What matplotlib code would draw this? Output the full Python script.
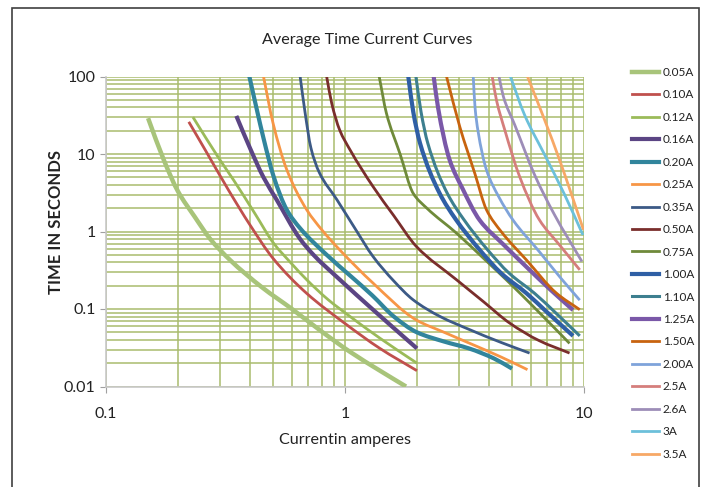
import numpy as np
import matplotlib
matplotlib.use("Agg")
import matplotlib.pyplot as plt
from matplotlib.patches import Rectangle, PathPatch
from matplotlib.path import Path
from matplotlib.lines import Line2D
from matplotlib.ticker import LogLocator, NullFormatter, FixedLocator, FixedFormatter

plt.rcParams['font.family'] = ['Lato', 'DejaVu Sans']

labels = ["0.05A", "0.10A", "0.12A", "0.16A", "0.20A", "0.25A", "0.35A", "0.50A", "0.75A",
          "1.00A", "1.10A", "1.25A", "1.50A", "2.00A", "2.5A", "2.6A", "3A", "3.5A"]

# current (A) and time (s)
x_005 = [0.15, 0.175, 0.2, 0.235, 0.273, 0.33, 0.45, 0.6, 0.8, 1.05, 1.4, 1.8]
t_005 = [29, 8.2, 3.3, 1.55, 0.8, 0.43, 0.19, 0.1, 0.051, 0.028, 0.016, 0.01]
x_010 = [0.222, 0.26, 0.325, 0.4, 0.5, 0.69, 1.0, 1.4, 2.0]
t_010 = [26, 11.3, 3.45, 1.22, 0.45, 0.16, 0.065, 0.031, 0.016]
x_012 = [0.231, 0.296, 0.342, 0.42, 0.502, 0.6, 0.692, 0.85, 1.05, 1.4, 2.0]
t_012 = [30, 8.9, 4.6, 1.7, 0.71, 0.38, 0.238, 0.132, 0.08, 0.042, 0.02]
x_016 = [0.351, 0.4, 0.456, 0.518, 0.649, 0.738, 0.95, 1.3, 2.0]
t_016 = [31, 12, 5.0, 2.56, 0.8, 0.5, 0.24, 0.1, 0.031]
x_020 = [0.398, 0.428, 0.456, 0.502, 0.571, 0.649, 0.838, 1.05, 1.3, 1.6, 2.0, 2.6, 3.3, 4.2, 5.0]
t_020 = [100, 37, 16, 5.2, 1.9, 1.1, 0.5, 0.27, 0.15, 0.08, 0.05, 0.038, 0.031, 0.023, 0.017]
x_025 = [0.456, 0.5, 0.571, 0.692, 0.8, 0.95, 1.31, 1.99, 2.6, 3.33, 4.5, 5.8]
t_025 = [100, 25, 6.25, 1.9, 1.05, 0.58, 0.216, 0.072, 0.05, 0.036, 0.024, 0.0165]
x_035 = [0.649, 0.68, 0.72, 0.78, 0.926, 1.1, 1.31, 1.6, 1.93, 2.5, 3.33, 4.5, 5.92]
t_035 = [100, 35, 12, 5.8, 2.56, 1.1, 0.476, 0.23, 0.131, 0.08, 0.054, 0.037, 0.027]
x_050 = [0.838, 0.88, 0.95, 1.05, 1.31, 1.6, 1.99, 2.93, 3.8, 4.88, 6.5, 8.7]
t_050 = [100, 45, 20.4, 11.3, 3.8, 1.6, 0.64, 0.238, 0.124, 0.066, 0.039, 0.027]
x_075 = [1.39, 1.49, 1.7, 1.93, 2.2, 2.93, 3.8, 4.73, 6.5, 8.7]
t_075 = [100, 33.7, 10, 3.1, 2.0, 0.95, 0.45, 0.238, 0.09, 0.036]
x_100 = [1.84, 1.93, 2.06, 2.49, 2.9, 3.66, 4.5, 5.74, 7.0, 9.0]
t_100 = [100, 35, 13.8, 3.1, 1.45, 0.58, 0.29, 0.16, 0.091, 0.045]
x_110 = [1.98, 2.08, 2.22, 2.68, 3.13, 3.95, 4.86, 6.2, 7.56, 9.6]
t_110 = [100, 35, 13.8, 3.1, 1.45, 0.58, 0.29, 0.16, 0.091, 0.045]
x_125 = [2.35, 2.45, 2.74, 3.1, 3.66, 4.6, 5.74, 7.2, 9.0]
t_125 = [100, 40, 8.4, 3.6, 1.4, 0.68, 0.35, 0.18, 0.097]
x_150 = [2.66, 3.02, 3.5, 3.91, 4.5, 5.74, 7.67, 9.6]
t_150 = [100, 22.6, 5.5, 1.9, 1.0, 0.43, 0.16, 0.098]
x_200 = [3.44, 3.5, 3.6, 3.91, 4.4, 5.05, 6.5, 8.0, 9.6]
t_200 = [100, 40, 20, 6.2, 2.8, 1.4, 0.55, 0.25, 0.13]
x_25 = [4.13, 4.3, 4.66, 5.38, 6.5, 7.9, 9.6]
t_25 = [100, 50, 20.5, 5.1, 1.42, 0.67, 0.32]
x_26 = [4.41, 4.6, 5.13, 6.21, 7.53, 9.8]
t_26 = [100, 55, 23.8, 5.4, 1.64, 0.41]
x_3 = [4.92, 5.64, 6.84, 8.29, 9.9]
t_3 = [100, 32, 9.8, 3.0, 0.9]
x_35 = [5.8, 6.84, 7.9, 8.87, 9.95]
t_35 = [100, 27.6, 8.4, 3.0, 1.05]

series_x = [x_005, x_010, x_012, x_016, x_020, x_025, x_035, x_050, x_075,
            x_100, x_110, x_125, x_150, x_200, x_25, x_26, x_3, x_35]
series_t = [t_005, t_010, t_012, t_016, t_020, t_025, t_035, t_050, t_075,
            t_100, t_110, t_125, t_150, t_200, t_25, t_26, t_3, t_35]

colors = ["#A8C47A", "#C0504D", "#9BBB59", "#5B4584", "#31859C", "#F79646", "#3C5A86",
          "#7A2E2C", "#6F8A3A", "#2F5FA5", "#3D7F8F", "#7A58A8", "#C8630F", "#7FA3DA",
          "#D57E7C", "#9D8DB8", "#6CC0DA", "#F7A866"]
widths = [3.2, 2.0, 2.0, 3.0, 3.0, 2.0, 2.0, 2.0, 2.0, 3.0, 2.2, 3.0, 2.0, 2.0, 2.0, 2.0, 2.0, 2.0]


def smooth_path(xs, ts):
    """Smoothed line through the read points (monotone cubic segments in
    log-log space, expressed as Bezier curves)."""
    lx = np.log10(np.asarray(xs, float))
    ly = np.log10(np.asarray(ts, float))
    n = len(lx)
    h = np.diff(lx)
    d = np.diff(ly) / h
    m = np.empty(n)
    m[0] = d[0]
    m[-1] = d[-1]
    for k in range(1, n - 1):
        if d[k - 1] * d[k] <= 0:
            m[k] = 0.0
        else:
            w1 = 2 * h[k] + h[k - 1]
            w2 = h[k] + 2 * h[k - 1]
            m[k] = (w1 + w2) / (w1 / d[k - 1] + w2 / d[k])
    verts = [(lx[0], ly[0])]
    codes = [Path.MOVETO]
    for k in range(n - 1):
        hk = h[k]
        verts.append((lx[k] + hk / 3, ly[k] + m[k] * hk / 3))
        verts.append((lx[k + 1] - hk / 3, ly[k + 1] - m[k + 1] * hk / 3))
        verts.append((lx[k + 1], ly[k + 1]))
        codes += [Path.CURVE4] * 3
    V = 10 ** np.array(verts)
    return Path(V, codes)


fig = plt.figure(figsize=(7.04, 4.87), dpi=100)
ax = fig.add_axes([106/704, 1-386.5/487, (584-106)/704, (386.5-76.5)/487])

ax.set_xscale('log')
ax.set_yscale('log')
ax.set_xlim(0.1, 10)
ax.set_ylim(0.01, 100)

handles = []
for xs, ts, lab, c, w in zip(series_x, series_t, labels, colors, widths):
    patch = PathPatch(smooth_path(xs, ts), transform=ax.transData, fill=False,
                      edgecolor=c, lw=w, capstyle='butt', zorder=3)
    ax.add_patch(patch)
    handles.append(Line2D([], [], color=c, lw=w, label=lab))

gcol = "#A9BC6E"
ax.xaxis.set_major_locator(FixedLocator([0.1, 1, 10]))
ax.xaxis.set_major_formatter(FixedFormatter(["0.1", "1", "10"]))
ax.yaxis.set_major_locator(FixedLocator([0.01, 0.1, 1, 10, 100]))
ax.yaxis.set_major_formatter(FixedFormatter(["0.01", "0.1", "1", "10", "100"]))
ax.xaxis.set_minor_locator(LogLocator(base=10, subs=range(2, 10)))
ax.yaxis.set_minor_locator(LogLocator(base=10, subs=range(2, 10)))
ax.xaxis.set_minor_formatter(NullFormatter())
ax.yaxis.set_minor_formatter(NullFormatter())
ax.grid(True, which='both', color=gcol, lw=1.1)
ax.set_axisbelow(True)
ax.tick_params(which='minor', length=0)
ax.tick_params(which='major', length=4, color="#A0A0A0", labelsize=11.5, labelcolor="#222222")
ax.tick_params(axis='x', pad=11)
for s in ['top', 'right']:
    ax.spines[s].set_visible(False)
for s in ['left', 'bottom']:
    ax.spines[s].set_color("#C8C8C8")
    ax.spines[s].set_linewidth(1.2)

fig.text(367/704, 1-40/487, "Average Time Current Curves", ha='center', va='center',
         fontsize=11.6, color="#222222")
fig.text(345/704, 1-440/487, "Currentin amperes", ha='center', va='center',
         fontsize=11.6, color="#222222")
fig.text(56/704, 1-222/487, "TIME IN SECONDS", ha='center', va='center', rotation=90,
         fontsize=12, fontweight='bold', color="#222222")

leg = fig.legend(handles=handles, loc='upper left', bbox_to_anchor=(632/704, 1-67/487),
                 frameon=False, fontsize=8.5, handlelength=2.3, handletextpad=0.3,
                 labelspacing=0.97, borderaxespad=0, borderpad=0)
for t in leg.get_texts():
    t.set_color("#222222")

fig.patches.append(Rectangle((12/704, -0.05), (699-12)/704, 1.05-8/487,
                             transform=fig.transFigure, fill=False, edgecolor="#404040",
                             lw=1.2, clip_on=False))

fig.savefig("out.png", dpi=100)
